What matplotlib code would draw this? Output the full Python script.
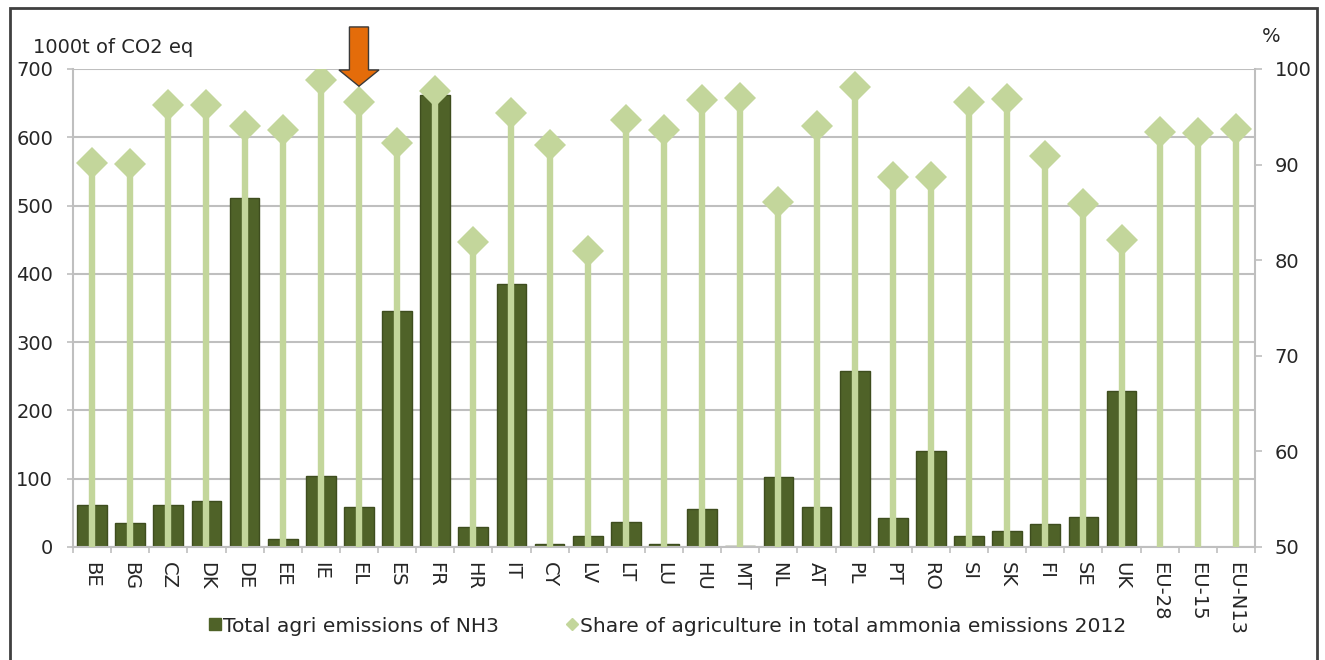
import numpy as np
import matplotlib

matplotlib.use("Agg")
import matplotlib.pyplot as plt  # noqa: E402
from matplotlib.patches import FancyArrow, Rectangle  # noqa: E402
from matplotlib.lines import Line2D  # noqa: E402

plt.rcParams["font.family"] = ["DejaVu Sans"]

categories = ["BE", "BG", "CZ", "DK", "DE", "EE", "IE", "EL", "ES", "FR",
              "HR", "IT", "CY", "LV", "LT", "LU", "HU", "MT", "NL", "AT",
              "PL", "PT", "RO", "SI", "SK", "FI", "SE", "UK",
              "EU-28", "EU-15", "EU-N13"]
# 1000t of CO2 eq (no bars for the EU aggregates)
nh3_emissions = [61, 35, 61, 67, 511, 11, 104, 59, 346, 662,
                 30, 385, 4, 16, 37, 5, 56, 2, 103, 59,
                 258, 42, 140, 16, 24, 33, 44, 228,
                 np.nan, np.nan, np.nan]
# % share of agriculture in total ammonia emissions 2012
agri_share = [90.2, 90.1, 96.2, 96.2, 94.0, 93.6, 98.9, 96.6, 92.3, 97.7,
              81.9, 95.4, 92.1, 81.0, 94.7, 93.6, 96.8, 97.0, 86.1, 94.0,
              98.1, 88.7, 88.7, 96.6, 96.9, 90.9, 85.9, 82.1,
              93.4, 93.3, 93.7]
left_ticks = [0, 100, 200, 300, 400, 500, 600, 700]
right_ticks = [50, 60, 70, 80, 90, 100]
highlight = "EL"

DARK = "#4F6228"
LIGHT = "#C3D69B"
GRID = "#BFBFBF"
TXT = "#262626"
FS = 14

W, H = 1325, 660
fig = plt.figure(figsize=(W / 100, H / 100), dpi=100)
fig.patch.set_facecolor("white")
ax = fig.add_axes([73 / W, 1 - 547 / H, (1255 - 73) / W, (547 - 69) / H])
ax2 = ax.twinx()

x = np.arange(len(categories))
ax.bar(x, nh3_emissions, width=0.78, color=DARK, edgecolor="#3E4D1E",
       linewidth=1, zorder=2)
ax.set_ylim(0, 700)
ax.set_xlim(-0.5, len(categories) - 0.5)
ax.set_yticks(left_ticks)
ax.yaxis.grid(True, color=GRID, linewidth=1.5, zorder=0)
ax.set_axisbelow(True)

# stems + diamonds on the secondary axis
ax2.vlines(x, 50, agri_share, colors=LIGHT, linewidth=4.6, zorder=3)
ax2.plot(x, agri_share, linestyle="none", marker="D", markersize=16.5,
         color=LIGHT, markeredgewidth=0, zorder=4)
ax2.set_ylim(50, 100)
ax2.set_yticks(right_ticks)

for a in (ax, ax2):
    a.spines["top"].set_visible(False)
    for side in ("left", "right", "bottom"):
        a.spines[side].set_color(GRID)
        a.spines[side].set_linewidth(1.5)
ax2.spines["left"].set_visible(False)
ax2.spines["bottom"].set_visible(False)
ax.spines["right"].set_visible(False)

ax.tick_params(axis="y", length=4.3, width=1.2, color=GRID, pad=10,
               labelsize=FS, labelcolor=TXT)
ax2.tick_params(axis="y", length=5, width=1.2, color=GRID, pad=9,
                labelsize=FS, labelcolor=TXT)
ax.set_xticks(x)
ax.set_xticklabels(categories, rotation=-90, fontsize=FS, color=TXT,
                   va="top", ha="center")
ax.set_xticks(np.arange(-0.5, len(categories)), minor=True)
ax.tick_params(axis="x", which="major", length=0, pad=11)
ax.tick_params(axis="x", which="minor", length=4.5, width=1.2, color=GRID)

# orange arrow pointing at the highlighted country
hx = categories.index(highlight)
ax2.add_patch(FancyArrow(hx, 104.4, 0, -6.2, width=0.5, head_width=1.05,
                         head_length=1.7, length_includes_head=True,
                         facecolor="#E46C0A", edgecolor="#3A3A3A",
                         linewidth=1, clip_on=False, zorder=6))

fig.text(33 / W, 1 - 53 / H, "1000t of CO2 eq", fontsize=FS, color=TXT,
         ha="left", va="baseline")
fig.text(1262 / W, 1 - 42 / H, "%", fontsize=FS, color=TXT,
         ha="left", va="baseline")

handles = [
    Line2D([], [], linestyle="none", marker="s", markersize=8, color=DARK),
    Line2D([], [], linestyle="none", marker="D", markersize=6, color=LIGHT),
]
labels = ["Total agri emissions of NH3",
          "Share of agriculture in total ammonia emissions 2012"]
fig.legend(handles, labels, loc="center", bbox_to_anchor=(668 / W, 1 - 626 / H),
           ncol=2, frameon=False, fontsize=14.6, handlelength=0.6,
           handletextpad=0.1, columnspacing=3.3, labelcolor=TXT)

# outer chart frame (cut off at the bottom)
fig.add_artist(Rectangle((10 / W, -0.1), (1317 - 10) / W, 1.1 - 8 / H,
                         transform=fig.transFigure, fill=False,
                         edgecolor="#404040", linewidth=2))

fig.savefig("out.png", facecolor="white")
